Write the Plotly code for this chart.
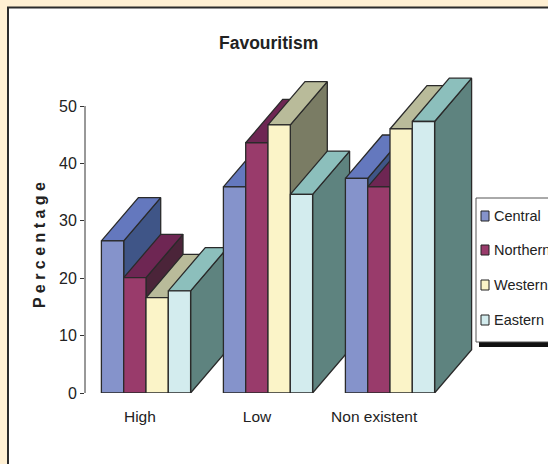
import plotly.graph_objects as go

# Survey data: perceived favouritism by region (percent of respondents)
categories = ["High", "Low", "Non existent"]
regions = ["Central", "Northern", "Western", "Eastern"]
central = [26.5, 35.9, 37.4]
northern = [20.1, 43.6, 35.9]
western = [16.6, 46.7, 46.0]
eastern = [17.8, 34.6, 47.3]
y_ticks = [0, 10, 20, 30, 40, 50]

series = [central, northern, western, eastern]

# Face colours for each region: front, top and right-hand side of a box
front_col = ["#8593CB", "#993B6B", "#FBF4C8", "#D3ECEE"]
top_col = ["#6478BE", "#6E2653", "#B9BB9A", "#8CBFBC"]
side_col = ["#3F5587", "#4B2439", "#7A7C64", "#5E837F"]
edge_col = "#2a2a2a"

FONT = "Liberation Sans, Arial, sans-serif"
TXT = "#222222"

# Figure geometry (pixels)
W, H = 548, 464
L, R, T, B = 85, 0, 70, 71
PW, PH = W - L - R, H - T - B
PX_PER_X = 122.0      # one category slot
PX_PER_Y = 5.74       # one percentage point
xmax = PW / PX_PER_X
ymax = PH / PX_PER_Y

bar_w = 22.3 / PX_PER_X
depth_x = 37.0 / PX_PER_X
depth_y = 43.3 / PX_PER_Y


def px_x(X):
    return (X - L) / PW


def px_y(Y):
    return (H - B - Y) / PH


def face(xs, ys, color):
    return go.Scatter(
        x=xs + [xs[0]], y=ys + [ys[0]], mode="lines", fill="toself",
        fillcolor=color, line=dict(color=edge_col, width=1.3),
        hoverinfo="skip", showlegend=False,
    )


fig = go.Figure()

# Boxes are drawn left to right so nearer boxes cover the sides of earlier ones
for gi, cat in enumerate(categories):
    g0 = gi + 0.5 - 2 * bar_w
    for si, vals in enumerate(series):
        v = vals[gi]
        x0 = g0 + si * bar_w
        x1 = x0 + bar_w
        fig.add_trace(face([x1, x1 + depth_x, x1 + depth_x, x1],
                           [0, depth_y, v + depth_y, v], side_col[si]))
        fig.add_trace(face([x0, x1, x1 + depth_x, x0 + depth_x],
                           [v, v, v + depth_y, v + depth_y], top_col[si]))
        fig.add_trace(face([x0, x1, x1, x0], [0, 0, v, v], front_col[si]))

shapes = [
    # white chart frame on the cream page
    dict(type="rect", xref="paper", yref="paper",
         x0=px_x(8), x1=px_x(600), y0=px_y(520), y1=px_y(7.5),
         fillcolor="white", line=dict(color="#2b2b2b", width=2), layer="below"),
    # value axis line from 0 to the top tick
    dict(type="line", xref="paper", yref="paper",
         x0=0, x1=0, y0=0, y1=y_ticks[-1] / ymax,
         line=dict(color="#333333", width=1)),
    # legend box and its shadow
    dict(type="rect", xref="paper", yref="paper",
         x0=px_x(479), x1=px_x(600), y0=px_y(347), y1=px_y(342),
         fillcolor="#111111", line=dict(width=0)),
    dict(type="rect", xref="paper", yref="paper",
         x0=px_x(476), x1=px_x(600), y0=px_y(342), y1=px_y(198),
         fillcolor="white", line=dict(color="#555555", width=1)),
]

annotations = [
    dict(text="<b>Favouritism</b>", xref="paper", yref="paper",
         x=px_x(268), y=px_y(43), showarrow=False,
         font=dict(family=FONT, size=17.5, color=TXT),
         xanchor="center", yanchor="middle"),
    dict(text="<b>P e r c e n t a g e</b>", xref="paper", yref="paper",
         x=px_x(39), y=px_y(245), showarrow=False, textangle=-90,
         font=dict(family=FONT, size=16, color=TXT),
         xanchor="center", yanchor="middle"),
]

# Legend entries
leg_y = [216, 250, 285, 320]
for i, name in enumerate(regions):
    yc = leg_y[i]
    shapes.append(dict(type="rect", xref="paper", yref="paper",
                       x0=px_x(481), x1=px_x(489), y0=px_y(yc + 5), y1=px_y(yc - 5),
                       fillcolor=front_col[i], line=dict(color="#222222", width=1)))
    annotations.append(dict(text=name, xref="paper", yref="paper",
                            x=px_x(492), y=px_y(yc), showarrow=False,
                            xanchor="left", yanchor="middle",
                            font=dict(family=FONT, size=14.5, color=TXT)))

label_x = [0.45 + 0.96 * i for i in range(len(categories))]

fig.update_layout(
    width=W, height=H,
    margin=dict(l=L, r=R, t=T, b=B, autoexpand=False),
    paper_bgcolor="#FFF0D3",
    plot_bgcolor="rgba(0,0,0,0)",
    showlegend=False,
    shapes=shapes,
    annotations=annotations,
    xaxis=dict(range=[0, xmax], showgrid=False, zeroline=False, showline=False,
               tickvals=label_x, ticktext=categories, ticks="",
               tickfont=dict(family=FONT, size=15.5, color=TXT),
               ticklabelstandoff=12, fixedrange=True),
    yaxis=dict(range=[0, ymax], showgrid=False, zeroline=False, showline=False,
               tickvals=y_ticks, ticks="outside", ticklen=4, tickwidth=1,
               tickcolor="#333333",
               tickfont=dict(family=FONT, size=16, color=TXT),
               fixedrange=True),
)

fig.write_html("out.html")
